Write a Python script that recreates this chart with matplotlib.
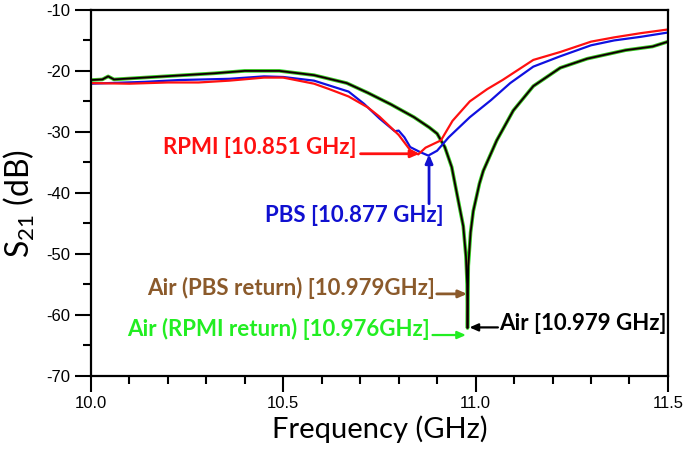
import matplotlib.pyplot as plt
from matplotlib.ticker import MultipleLocator

# S21 traces (GHz, dB)
freq_rpmi = [10.00, 10.10, 10.20, 10.28, 10.36, 10.45, 10.50, 10.58, 10.62, 10.67,
             10.72, 10.75, 10.80, 10.83, 10.851, 10.87, 10.91, 10.94, 10.985, 11.03,
             11.07, 11.15, 11.22, 11.30, 11.36, 11.43, 11.50]
s21_rpmi = [-22.0, -22.1, -21.9, -21.9, -21.6, -21.1, -21.1, -22.1, -23.0, -24.2,
            -26.0, -27.5, -30.5, -33.0, -33.7, -32.6, -31.4, -28.2, -25.0, -23.0,
            -21.5, -18.2, -16.9, -15.2, -14.5, -13.8, -13.2]

freq_pbs = [10.00, 10.14, 10.23, 10.36, 10.45, 10.50, 10.58, 10.62, 10.67, 10.71,
            10.75, 10.79, 10.80, 10.815, 10.83, 10.855, 10.877, 10.90, 10.93, 10.985,
            11.04, 11.09, 11.15, 11.22, 11.30, 11.36, 11.43, 11.50]
s21_pbs = [-22.1, -21.8, -21.5, -21.3, -20.9, -21.0, -21.6, -22.4, -23.4, -25.4,
           -27.8, -29.9, -29.8, -30.9, -32.5, -33.3, -33.9, -33.1, -30.9, -27.6,
           -24.8, -22.0, -19.3, -17.6, -15.8, -15.0, -14.4, -13.7]

freq_air = [10.00, 10.03, 10.045, 10.06, 10.19, 10.32, 10.40, 10.49, 10.58, 10.665,
            10.72, 10.78, 10.84, 10.88, 10.90, 10.92, 10.938, 10.955, 10.968, 10.975,
            10.978, 10.979, 10.981, 10.987, 10.994, 11.01, 11.02, 11.055, 11.098, 11.15,
            11.22, 11.29, 11.39, 11.46, 11.50]
s21_air = [-21.5, -21.4, -20.9, -21.4, -20.9, -20.4, -20.0, -20.0, -20.7, -22.0,
           -23.6, -25.5, -27.6, -29.3, -30.3, -32.5, -35.8, -41.3, -45.5, -50.5,
           -55.0, -62.2, -52.0, -46.5, -43.0, -38.5, -36.4, -31.4, -26.5, -22.5,
           -19.5, -18.0, -16.6, -16.0, -15.2]

plt.rcParams['font.family'] = ['Lato', 'DejaVu Sans']
plt.rcParams['axes.unicode_minus'] = False

fig = plt.figure(figsize=(6.83, 4.53), dpi=100)
ax = fig.add_axes([0.133, 0.171, 0.845, 0.807])

ax.plot(freq_air, s21_air, color='#22dd22', lw=2.6)
ax.plot(freq_air, s21_air, color='#8b5a2b', lw=1.6)
ax.plot(freq_air, s21_air, color='black', lw=1.2)
ax.plot(freq_pbs, s21_pbs, color='#1010e0', lw=1.6)
ax.plot(freq_rpmi, s21_rpmi, color='#ff1010', lw=1.6)

ax.set_xlim(10.0, 11.5)
ax.set_ylim(-70, -10)
ax.xaxis.set_major_locator(MultipleLocator(0.5))
ax.xaxis.set_minor_locator(MultipleLocator(0.1))
ax.yaxis.set_major_locator(MultipleLocator(10))
ax.yaxis.set_minor_locator(MultipleLocator(5))
ax.xaxis.set_major_formatter(lambda v, p: f"{v:.1f}")
ax.yaxis.set_major_formatter(lambda v, p: f"{v:.0f}")

for s in ax.spines.values():
    s.set_linewidth(1.6)
ax.tick_params(which='major', direction='out', length=11.5, width=1.5, pad=3)
ax.tick_params(which='minor', direction='out', length=5.8, width=1.5)
for lab in ax.get_xticklabels() + ax.get_yticklabels():
    lab.set_family('Liberation Sans')
    lab.set_fontsize(12)

ax.set_xlabel('Frequency (GHz)', fontsize=21)
ax.set_ylabel(r'$\mathregular{S_{21}}$ (dB)', fontsize=23)
ax.xaxis.set_label_coords(0.5, -0.11)
ax.yaxis.set_label_coords(-0.093, 0.47)


def mark(text, color, text_xy, ha, tail, head, lw):
    ax.text(text_xy[0], text_xy[1], text, color=color, fontsize=16,
            fontweight='bold', ha=ha, va='center')
    ax.annotate('', xy=head, xytext=tail,
                arrowprops=dict(arrowstyle='-|>,head_length=0.5,head_width=0.22',
                                color=color, lw=lw, shrinkA=0, shrinkB=0))


mark('RPMI [10.851 GHz]', '#ff1010', (10.69, -32.5), 'right',
     (10.701, -33.6), (10.854, -33.6), 2.0)
mark('PBS [10.877 GHz]', '#1010d0', (10.686, -43.8), 'center',
     (10.879, -41.8), (10.879, -33.7), 2.0)
mark('Air (PBS return) [10.979GHz]', '#8b5a2b', (10.894, -55.7), 'right',
     (10.899, -56.6), (10.978, -56.6), 2.0)
mark('Air (RPMI return) [10.976GHz]', '#22ee22', (10.880, -62.4), 'right',
     (10.888, -63.35), (10.975, -63.35), 1.6)
mark('Air [10.979 GHz]', 'black', (11.061, -61.4), 'left',
     (11.058, -62.1), (10.984, -62.1), 1.6)

fig.savefig('out.png', dpi=100)
